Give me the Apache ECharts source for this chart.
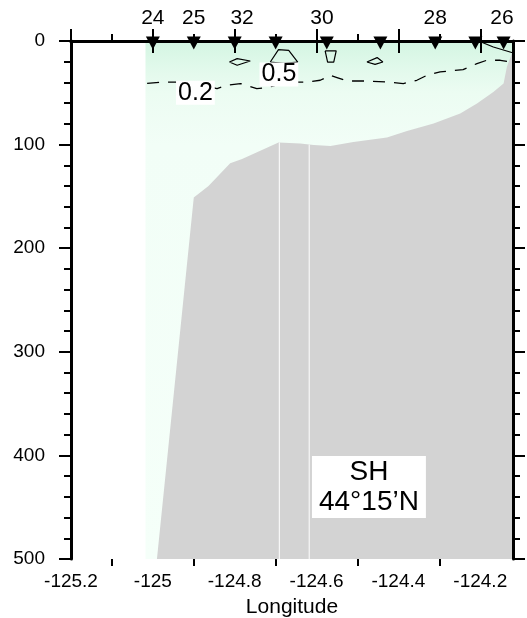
<!DOCTYPE html>
<html><head><meta charset="utf-8">
<script src="https://cdn.jsdelivr.net/npm/echarts@6/dist/echarts.min.js"></script>
<style>html,body{margin:0;padding:0;background:#fff}#c{width:527px;height:618px}</style>
</head><body><div id="c"></div>
<script>
// ---------- data ----------
const xMajor = [-125.2, -125, -124.8, -124.6, -124.4, -124.2];
const xMinor = [-125.1, -124.9, -124.7, -124.5, -124.3];
const xRange = [-125.2, -124.12];
const yRange = [0, 500];

const stationLon = [-125.0, -124.9, -124.8, -124.7, -124.575, -124.444, -124.31, -124.212, -124.143];
const stationLabelLon = [-125.0, -124.9, -124.782, -124.587, -124.31, -124.147];
const stationLabels = ['24', '25', '32', '30', '28', '26'];

// 0.2 contour (dashed)
const c02Lon = [-125.014, -124.974, -124.941, -124.909, -124.843, -124.819, -124.786, -124.746, -124.721, -124.672, -124.623, -124.591, -124.566, -124.550, -124.526, -124.477, -124.428, -124.388, -124.355, -124.330, -124.298, -124.242, -124.208, -124.184, -124.151, -124.127];
const c02Depth = [41, 39.6, 39.6, 40.5, 45.9, 42.7, 41.1, 45.9, 45, 39.6, 39.6, 37.9, 33.1, 35.3, 38.6, 38.6, 39.6, 41.1, 37.9, 33.1, 29.9, 27.6, 21.8, 18.6, 18.6, 20.3];

// 0.5 contours (solid)
const c05aLon = [-124.813, -124.794, -124.762, -124.794, -124.813];
const c05aDepth = [20.3, 17.0, 19.3, 23.4, 20.3];
const c05bLon = [-124.713, -124.693, -124.668, -124.646, -124.681, -124.713];
const c05bDepth = [20.3, 8.3, 9.0, 20.3, 21.5, 20.3];
const c05cLon = [-124.579, -124.552, -124.558, -124.573, -124.579];
const c05cDepth = [9.6, 9.6, 20.3, 20.3, 9.6];
const c05dLon = [-124.477, -124.452, -124.438, -124.457, -124.477];
const c05dDepth = [20.3, 16.0, 20.3, 22.5, 20.3];
const c05eLon = [-124.198, -124.168, -124.119];
const c05eDepth = [1.0, 5.8, 11.6];

// bathymetry
const bathyLon = [-124.990, -124.900, -124.864, -124.811, -124.782, -124.693, -124.640, -124.607, -124.566, -124.510, -124.428, -124.379, -124.314, -124.249, -124.208, -124.168, -124.143, -124.135, -124.12, -124.12];
const bathyDepth = [500, 151, 140, 118, 114, 98, 99, 100.3, 101.3, 97.4, 93.2, 86.8, 79.7, 70.0, 60.4, 49.2, 41.1, 25.1, 9.0, 500];
const gapLon = [-124.691, -124.618];
const gapTop = [98, 100];

// shaded data area
const shadeLon = [-125.018, -124.12];
const shadeDepth = [0, 500];

// annotations
const contourLabelLon = [-124.896, -124.692];
const contourLabelDepth = [50, 32.3];
const contourLabelText = ['0.2', '0.5'];
const sectionLon = [-124.472];
const sectionDepth = [430.4];
const sectionText = ['SH\n44°15’N'];

// ---------- chart ----------
const FONT = '"Liberation Sans", Arial, Helvetica, sans-serif';
const chart = echarts.init(document.getElementById('c'));
const pairs = (a, b) => a.map((v, i) => [v, b[i]]);
const black = '#000';

function xAxisCfg(pos, major, withLabels) {
  return {
    type: 'value', position: pos, min: xRange[0], max: xRange[1], z: 10,
    axisLine: { show: major, lineStyle: { color: black, width: 3 } },
    axisTick: { show: true, inside: false, length: major ? 12 : 7, customValues: major ? xMajor : xMinor,
      lineStyle: { color: black, width: 2 } },
    axisLabel: { show: withLabels, customValues: xMajor, fontSize: 19, color: black, fontFamily: FONT, margin: 13 },
    splitLine: { show: false },
    name: withLabels ? 'Longitude' : '', nameLocation: 'middle', nameGap: 38,
    nameTextStyle: { fontSize: 21, color: black, fontFamily: FONT }
  };
}
function yAxisCfg(pos, withLabels) {
  return {
    type: 'value', position: pos, inverse: true, min: yRange[0], max: yRange[1], interval: 100, z: 10,
    axisLine: { show: true, lineStyle: { color: black, width: 3 } },
    axisTick: { show: true, inside: false, length: 12, lineStyle: { color: black, width: 2 } },
    minorTick: { show: true, splitNumber: 5, length: 7, lineStyle: { color: black, width: 2 } },
    axisLabel: { show: withLabels, fontSize: 19, color: black, fontFamily: FONT, margin: 26 },
    splitLine: { show: false }, minorSplitLine: { show: false }
  };
}

const lineSeries = (lon, dep, dashed) => ({
  type: 'line', data: pairs(lon, dep), symbol: 'none', z: 5, silent: true,
  lineStyle: { color: black, width: dashed ? 1.3 : 1.2, type: dashed ? [12, 9] : 'solid', opacity: 1 }
});

const option = {
  animation: false,
  backgroundColor: '#fff',
  grid: { left: 71, right: 14, top: 41, bottom: 59, containLabel: false, outerBoundsMode: 'none' },
  xAxis: [
    xAxisCfg('bottom', true, true),
    xAxisCfg('top', true, false),
    xAxisCfg('bottom', false, false),
    xAxisCfg('top', false, false)
  ],
  yAxis: [yAxisCfg('left', true), yAxisCfg('right', false)],
  series: [
    {
      type: 'custom', clip: true, z: 1, silent: true,
      data: [[shadeLon[0], shadeDepth[0]]],
      renderItem: (params, api) => {
        const p0 = api.coord([shadeLon[0], shadeDepth[0]]);
        const p1 = api.coord([shadeLon[1], shadeDepth[1]]);
        return { type: 'rect', shape: { x: p0[0], y: p0[1], width: p1[0] - p0[0], height: p1[1] - p0[1] },
          style: { fill: new echarts.graphic.LinearGradient(0, 0, 0, 1, [
            { offset: 0, color: '#d4f5e2' }, { offset: 0.05, color: '#e1f9eb' },
            { offset: 0.1, color: '#ecfcf2' }, { offset: 0.2, color: '#f2fef7' }, { offset: 1, color: '#f5fff9' }]) } };
      }
    },
    {
      type: 'custom', clip: true, z: 2, silent: true,
      data: [[bathyLon[0], bathyDepth[0]]],
      renderItem: (params, api) => ({
        type: 'polygon', shape: { points: bathyLon.map((x, i) => api.coord([x, bathyDepth[i]])) },
        style: { fill: '#d3d3d3' }
      })
    },
    {
      type: 'custom', clip: true, z: 3, silent: true,
      data: gapLon.map((x, i) => [x, gapTop[i]]),
      renderItem: (params, api) => {
        const a = api.coord([api.value(0), api.value(1)]);
        const b = api.coord([api.value(0), yRange[1]]);
        return { type: 'line', shape: { x1: a[0], y1: a[1], x2: b[0], y2: b[1] }, style: { stroke: '#fff', lineWidth: 1 } };
      }
    },
    lineSeries(c02Lon, c02Depth, true),
    lineSeries(c05aLon, c05aDepth, false),
    lineSeries(c05bLon, c05bDepth, false),
    lineSeries(c05cLon, c05cDepth, false),
    lineSeries(c05dLon, c05dDepth, false),
    lineSeries(c05eLon, c05eDepth, false),
    {
      type: 'scatter', clip: false, z: 20, silent: true,
      data: stationLon.map(x => [x, 0]),
      symbol: 'path://M0,0L10,0L5,10Z', symbolSize: [14, 13], symbolOffset: [0, 2],
      itemStyle: { color: black, opacity: 1 }
    },
    {
      type: 'scatter', clip: false, z: 20, silent: true,
      data: stationLabelLon.map((x, i) => ({ value: [x, 0], name: stationLabels[i] })),
      symbolSize: 1, itemStyle: { color: 'rgba(0,0,0,0)', opacity: 1 },
      label: { show: true, position: 'top', distance: 12, formatter: p => p.name,
        fontSize: 21, color: black, fontFamily: FONT, opacity: 1 }
    },
    {
      type: 'scatter', clip: false, z: 15, silent: true,
      data: contourLabelLon.map((x, i) => ({ value: [x, contourLabelDepth[i]], name: contourLabelText[i] })),
      symbolSize: 1, itemStyle: { color: 'rgba(0,0,0,0)', opacity: 1 },
      label: { show: true, position: 'inside', formatter: p => p.name, fontSize: 25, color: black, opacity: 1,
        fontFamily: FONT, backgroundColor: '#fff', padding: [0, 2, 0, 2], lineHeight: 24 }
    },
    {
      type: 'scatter', clip: false, z: 15, silent: true,
      data: sectionLon.map((x, i) => ({ value: [x, sectionDepth[i]], name: sectionText[i] })),
      symbolSize: 1, itemStyle: { color: 'rgba(0,0,0,0)', opacity: 1 },
      label: { show: true, position: 'inside', formatter: p => p.name, fontSize: 28, lineHeight: 30, opacity: 1,
        color: black, fontFamily: FONT, backgroundColor: '#fff', padding: [1, 7, 1, 7], align: 'center' }
    }
  ]
};
chart.setOption(option);
</script>
</body></html>
